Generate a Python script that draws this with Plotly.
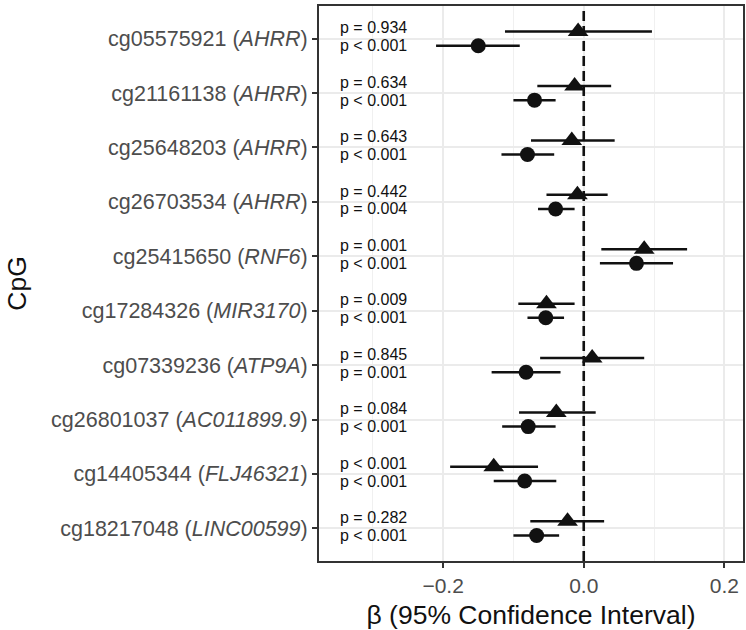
import plotly.graph_objects as go

# ---- data ----
cpgs = ["cg05575921", "cg21161138", "cg25648203", "cg26703534", "cg25415650",
        "cg17284326", "cg07339236", "cg26801037", "cg14405344", "cg18217048"]
genes = ["AHRR", "AHRR", "AHRR", "AHRR", "RNF6",
         "MIR3170", "ATP9A", "AC011899.9", "FLJ46321", "LINC00599"]

beta_tri = [-0.008, -0.013, -0.017, -0.009, 0.086, -0.053, 0.012, -0.039, -0.128, -0.023]
lo_tri = [-0.112, -0.066, -0.075, -0.053, 0.025, -0.093, -0.062, -0.092, -0.190, -0.076]
hi_tri = [0.097, 0.039, 0.044, 0.034, 0.147, -0.013, 0.086, 0.017, -0.065, 0.029]
p_tri = ["p = 0.934", "p = 0.634", "p = 0.643", "p = 0.442", "p = 0.001",
         "p = 0.009", "p = 0.845", "p = 0.084", "p < 0.001", "p = 0.282"]

beta_cir = [-0.150, -0.070, -0.080, -0.040, 0.075, -0.054, -0.082, -0.079, -0.084, -0.067]
lo_cir = [-0.210, -0.100, -0.117, -0.065, 0.023, -0.080, -0.131, -0.116, -0.128, -0.100]
hi_cir = [-0.091, -0.040, -0.042, -0.013, 0.127, -0.028, -0.033, -0.040, -0.039, -0.035]
p_cir = ["p < 0.001", "p < 0.001", "p < 0.001", "p = 0.004", "p < 0.001",
         "p < 0.001", "p = 0.001", "p < 0.001", "p < 0.001", "p < 0.001"]

x_ticks = [-0.2, 0.0, 0.2]
x_ticktext = ["\u22120.2", "0.0", "0.2"]
x_minor = [-0.3, -0.1, 0.1]
ref_x = 0.0

# ---- layout helpers ----
FONT = "Liberation Sans, Arial, Helvetica, sans-serif"
INK = "#111111"
n = len(cpgs)
pos = [n - i for i in range(n)]
dodge = 0.13
y_tri = [p + dodge for p in pos]
y_cir = [p - dodge for p in pos]
ticktext = [f"{c} (<i>{g}</i>)" for c, g in zip(cpgs, genes)]
y_range = [0.4, n + 0.6]

fig = go.Figure()

# dashed reference line at beta = 0
fig.add_trace(go.Scatter(
    x=[ref_x, ref_x], y=y_range, mode="lines", hoverinfo="skip",
    line=dict(color=INK, width=2.6, dash="10px,5px"), showlegend=False))

fig.add_trace(go.Scatter(
    x=beta_tri, y=y_tri, mode="markers", name="triangle",
    marker=dict(symbol="triangle-up", size=18, color=INK),
    error_x=dict(type="data", symmetric=False,
                 array=[h - b for h, b in zip(hi_tri, beta_tri)],
                 arrayminus=[b - l for b, l in zip(beta_tri, lo_tri)],
                 width=0, thickness=2.5, color=INK),
    showlegend=False, cliponaxis=False))

fig.add_trace(go.Scatter(
    x=beta_cir, y=y_cir, mode="markers", name="circle",
    marker=dict(symbol="circle", size=15, color=INK),
    error_x=dict(type="data", symmetric=False,
                 array=[h - b for h, b in zip(hi_cir, beta_cir)],
                 arrayminus=[b - l for b, l in zip(beta_cir, lo_cir)],
                 width=0, thickness=2.5, color=INK),
    showlegend=False, cliponaxis=False))

annotations = []
for p, t1, t2 in zip(pos, p_tri, p_cir):
    annotations.append(dict(x=-0.3475, y=p + 0.2, xref="x", yref="y", text=t1,
                            showarrow=False, xanchor="left", yanchor="middle", borderpad=0,
                            font=dict(family=FONT, size=16, color=INK)))
    annotations.append(dict(x=-0.3475, y=p - 0.13, xref="x", yref="y", text=t2,
                            showarrow=False, xanchor="left", yanchor="middle", borderpad=0,
                            font=dict(family=FONT, size=16, color=INK)))

fig.update_layout(
    width=746, height=630,
    margin=dict(l=319, r=1, t=6, b=69),
    paper_bgcolor="white", plot_bgcolor="white",
    font=dict(family=FONT),
    annotations=annotations,
    xaxis=dict(
        range=[-0.3765, 0.2265], tickvals=x_ticks, ticktext=x_ticktext,
        showgrid=True, gridcolor="#ebebeb", gridwidth=1.6,
        minor=dict(tickvals=x_minor, showgrid=True, gridcolor="#f0f0f0", gridwidth=0.9),
        zeroline=False, showline=True, mirror=True, linecolor="#333333", linewidth=2,
        ticks="outside", ticklen=5, tickwidth=2, tickcolor="#333333",
        tickfont=dict(family=FONT, size=21, color="#4d4d4d"),
        title=dict(text="\u03b2 (95% Confidence Interval)", standoff=11,
                   font=dict(family=FONT, size=26.5, color=INK)),
    ),
    yaxis=dict(
        range=y_range, tickvals=pos, ticktext=ticktext,
        showgrid=True, gridcolor="#ebebeb", gridwidth=1.6,
        zeroline=False, showline=True, mirror=True, linecolor="#333333", linewidth=2,
        ticks="outside", ticklen=5, tickwidth=2, tickcolor="#333333",
        tickfont=dict(family=FONT, size=21.5, color="#4d4d4d"),
        title=dict(text="CpG", standoff=17,
                   font=dict(family=FONT, size=26.5, color=INK)),
    ),
)

fig.write_html("out.html", config={"displayModeBar": False},
               post_script="document.body.style.margin='0';")
